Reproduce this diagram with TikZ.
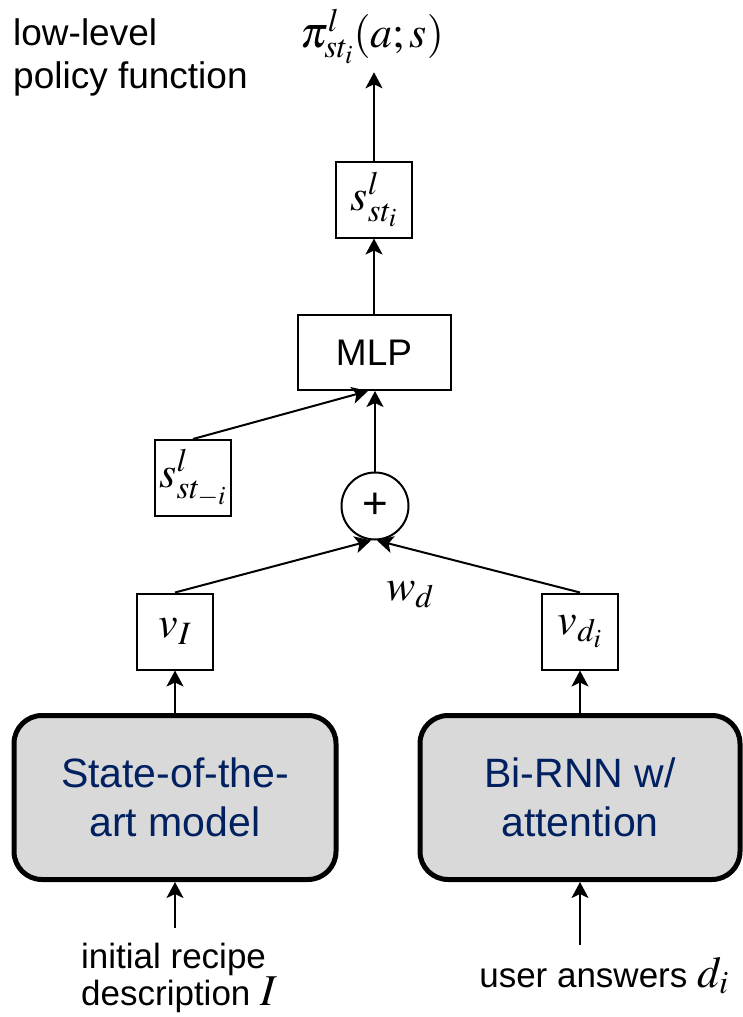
\documentclass[tikz,border=0pt]{standalone}
\usepackage{mathptmx}
\usepackage{fontspec}
\setmainfont{Liberation Sans}
\usetikzlibrary{arrows.meta,calc}
\definecolor{navy}{RGB}{0,32,96}
\definecolor{boxgray}{RGB}{217,217,217}
\newcommand{\bigmath}[1]{{\fontsize{44}{37}\selectfont$#1$}}
\begin{document}
\begin{tikzpicture}[x=1pt,y=-1pt,
  sq/.style={draw, line width=2pt, minimum width=76pt, minimum height=76pt, inner sep=0pt, font=\fontsize{44}{50}\selectfont},
  mlpbox/.style={draw, line width=2pt, minimum width=153pt, minimum height=75pt, inner sep=0pt, font=\fontsize{37}{42}\selectfont},
  model/.style={draw, line width=5pt, rounded corners=28pt, fill=boxgray, text=navy, align=center, inner sep=0pt, font=\fontsize{41}{49}\selectfont},
  lbl/.style={inner sep=0pt, font=\fontsize{35}{37}\selectfont},
  arr/.style={line width=2pt, -{Stealth[length=16pt,width=17pt,inset=4pt]}}
]
\useasboundingbox (0,0) rectangle (742,1017);

\node[anchor=north west, inner sep=0pt, align=left, font=\fontsize{37}{43}\selectfont] (title) at (13,18) {low-level\\policy function};
\node[anchor=base, inner sep=8pt, font=\fontsize{44}{48}\selectfont] (pi) at (372,47) {$\pi^{l}_{st_i}(a;s)$};

\node[sq] (sb) at (374,199.5) {$s^{l}_{st_i}$};
\node[mlpbox] (mlp) at (374,352.5) {MLP};
\node[sq] (sm) at (193,478) {$s^{l}_{st_{-i}}$};
\node[circle, draw, line width=2pt, minimum size=67pt, inner sep=0pt, font=\fontsize{44}{44}\selectfont] (plus) at (375,506) {+};
\node[sq] (vI) at (175,631.5) {$v_I$};
\node[sq] (vd) at (580,631.5) {$v_{d_i}$};
\node[anchor=base, inner sep=0pt, font=\fontsize{44}{50}\selectfont] (wd) at (410,600) {$w_d$};

\node[model, minimum width=322pt, minimum height=164pt] (m1) at (175,797.5) {State-of-the-\\art model};
\node[model, minimum width=320pt, minimum height=164pt] (m2) at (580,797.5) {Bi-RNN w/\\attention};

\node[lbl, anchor=north west, align=left] (in1) at (81,943) {initial recipe\\description \bigmath{I}};
\node[lbl, anchor=base] (in2) at (604,987) {user answers \bigmath{d_i}};
\coordinate (c1) at (175,928);
\coordinate (c2) at (580,945);

\draw[arr] (sb.north) -- (sb.north |- pi.south);
\draw[arr] (mlp.north) -- (sb.south);
\draw[arr] (plus.north) -- (plus.north |- mlp.south);
\draw[arr] (sm.north) -- ($(mlp.south)+(-6,0)$);
\draw[arr] (vI.north) -- ($(plus.south)+(-4,0)$);
\draw[arr] (vd.north) -- ($(plus.south)+(2,0)$);
\draw[arr] (m1.north) -- (vI.south);
\draw[arr] (m2.north) -- (vd.south);
\draw[arr] (c1) -- (m1.south);
\draw[arr] (c2) -- (m2.south);
\end{tikzpicture}
\end{document}
